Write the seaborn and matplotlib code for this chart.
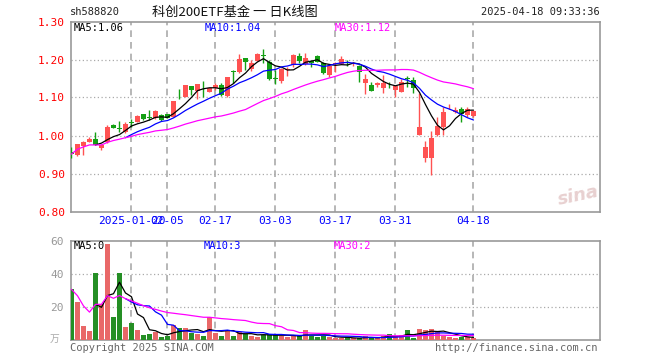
import numpy as np
import pandas as pd
import matplotlib
matplotlib.use('Agg')
import matplotlib.pyplot as plt
import seaborn as sns

# trading days 2025-01-06 .. 2025-04-18 (spring festival and qingming closed)
holidays = ['2025-01-28', '2025-01-29', '2025-01-30', '2025-01-31',
            '2025-02-03', '2025-02-04', '2025-04-04']
dates = pd.bdate_range('2025-01-06', '2025-04-18').drop(pd.to_datetime(holidays))

open_ = [0.957, 0.949, 0.973, 0.984, 0.991, 0.966, 0.984, 1.028, 1.020, 1.010,
         1.036, 1.036, 1.056, 1.048, 1.045, 1.054, 1.056, 1.050, 1.113, 1.102,
         1.130, 1.118, 1.118, 1.115, 1.124, 1.134, 1.105, 1.169, 1.168, 1.203,
         1.174, 1.197, 1.213, 1.193, 1.151, 1.143, 1.172, 1.185, 1.209, 1.189,
         1.196, 1.209, 1.191, 1.159, 1.187, 1.189, 1.194, 1.187, 1.183, 1.139,
         1.132, 1.132, 1.124, 1.134, 1.119, 1.115, 1.151, 1.147, 1.001, 0.942,
         0.940, 1.001, 1.023, 1.074, 1.063, 1.069, 1.054, 1.052]
high = [0.970, 0.978, 0.986, 0.997, 1.008, 0.977, 1.028, 1.030, 1.038, 1.036,
        1.043, 1.053, 1.057, 1.067, 1.066, 1.056, 1.057, 1.092, 1.122, 1.133,
        1.131, 1.136, 1.144, 1.125, 1.138, 1.139, 1.154, 1.173, 1.215, 1.205,
        1.199, 1.216, 1.227, 1.199, 1.172, 1.178, 1.181, 1.214, 1.216, 1.216,
        1.200, 1.211, 1.193, 1.189, 1.194, 1.209, 1.200, 1.194, 1.185, 1.163,
        1.141, 1.141, 1.159, 1.141, 1.131, 1.150, 1.156, 1.153, 1.111, 0.985,
        1.013, 1.049, 1.076, 1.083, 1.076, 1.076, 1.076, 1.066]
low = [0.942, 0.946, 0.948, 0.982, 0.974, 0.962, 0.979, 1.019, 1.008, 1.006,
       1.023, 1.035, 1.040, 1.041, 1.044, 1.038, 1.045, 1.048, 1.095, 1.101,
       1.107, 1.097, 1.102, 1.114, 1.119, 1.103, 1.100, 1.138, 1.165, 1.173,
       1.171, 1.195, 1.192, 1.146, 1.135, 1.137, 1.156, 1.181, 1.191, 1.185,
       1.181, 1.193, 1.163, 1.154, 1.168, 1.188, 1.182, 1.182, 1.141, 1.109,
       1.116, 1.128, 1.113, 1.124, 1.102, 1.115, 1.128, 1.112, 1.001, 0.931,
       0.895, 0.998, 1.001, 1.069, 1.058, 1.036, 1.050, 1.050]
close = [0.951, 0.977, 0.982, 0.991, 0.975, 0.975, 1.023, 1.021, 1.018, 1.029,
         1.034, 1.052, 1.043, 1.046, 1.064, 1.040, 1.046, 1.091, 1.111, 1.132,
         1.121, 1.135, 1.116, 1.124, 1.132, 1.107, 1.153, 1.167, 1.201, 1.193,
         1.192, 1.215, 1.210, 1.150, 1.149, 1.176, 1.176, 1.213, 1.196, 1.203,
         1.191, 1.194, 1.165, 1.182, 1.191, 1.200, 1.190, 1.191, 1.168, 1.150,
         1.118, 1.137, 1.137, 1.132, 1.130, 1.141, 1.149, 1.124, 1.023, 0.970,
         0.993, 1.025, 1.063, 1.076, 1.067, 1.057, 1.069, 1.065]
# volume, 10k lots
volume = [30.6, 22.9, 8.3, 5.6, 40.3, 21.7, 58.3, 13.9, 40.3, 7.9,
          10.3, 6.2, 3.0, 3.6, 4.9, 1.9, 2.5, 8.9, 7.3, 7.3,
          4.3, 3.7, 2.4, 13.6, 4.3, 2.4, 5.6, 2.5, 4.6, 3.9,
          2.5, 2.0, 3.1, 3.9, 3.0, 2.4, 2.0, 2.2, 2.4, 6.0,
          2.5, 2.0, 2.7, 1.8, 1.0, 1.0, 1.6, 1.0, 1.0, 2.4,
          1.4, 1.0, 2.4, 3.6, 2.0, 3.0, 6.0, 1.4, 6.6, 6.0,
          6.6, 5.0, 2.7, 1.8, 1.3, 2.0, 1.8, 1.0]

tick_dates = ['2025-01-20', '2025-02-05', '2025-02-17', '2025-03-03',
              '2025-03-17', '2025-03-31', '2025-04-18']
tick_labels = ['2025-01-20', '02-05', '02-17', '03-03', '03-17', '03-31', '04-18']
price_ticks = [0.80, 0.90, 1.00, 1.10, 1.20, 1.30]
vol_ticks = [20, 40, 60]

df = pd.DataFrame({'date': dates, 'open': open_, 'high': high, 'low': low,
                   'close': close, 'volume': volume})
df['i'] = np.arange(len(df))
df['dir'] = np.where(df['close'] >= df['open'], 'up', 'down')
for col, out in [('close', 'p'), ('volume', 'v')]:
    df[out + 'ma5'] = df[col].rolling(5).mean()
    df[out + 'ma10'] = df[col].rolling(10).mean()
    df[out + 'ma30'] = df[col].rolling(30, min_periods=1).mean()
tick_idx = [int(df.index[df['date'] == pd.Timestamp(d)][0]) for d in tick_dates]

RED, GREEN = '#ff5252', '#14a014'
pal = {'up': RED, 'down': GREEN}
GRID = '#aaaaaa'

sns.set_theme(style='white')
plt.rcParams['font.family'] = ['DejaVu Sans Mono', 'Noto Sans CJK SC']

W, H = 660, 360
fig = plt.figure(figsize=(W / 100, H / 100), dpi=100)
fig.patch.set_facecolor('white')


def box(l, t, r, b):
    return [l / W, 1 - b / H, (r - l) / W, (b - t) / H]


def ftext(x, y, s, **kw):
    fig.text(x / W, 1 - y / H, s, va='center', **kw)


ax = fig.add_axes(box(70.7, 21.5, 599.5, 211.5))
axv = fig.add_axes(box(70.7, 240.7, 599.5, 340))
xlim = (-0.13, 88.0)

# candles
cols = df['dir'].map(pal)
ax.vlines(df['i'], df['low'], df['high'], colors=cols, lw=1.0, zorder=3)
body_lo = df[['open', 'close']].min(axis=1)
body_h = (df['close'] - df['open']).abs().clip(lower=0.0018)
ax.bar(df['i'], body_h, bottom=body_lo, width=0.72, color=cols, lw=0, zorder=3)

for col, c in [('pma5', 'black'), ('pma10', '#0000ff'), ('pma30', '#ff00ff')]:
    sns.lineplot(data=df, x='i', y=col, color=c, lw=0.9, ax=ax, zorder=4)

# volume
sns.barplot(data=df, x='i', y='volume', hue='dir', palette=pal, native_scale=True,
            dodge=False, width=0.82, errorbar=None, legend=False, ax=axv, zorder=3,
            linewidth=0)
for col, c in [('vma5', 'black'), ('vma10', '#0000ff'), ('vma30', '#ff00ff')]:
    sns.lineplot(data=df, x='i', y=col, color=c, lw=0.9, ax=axv, zorder=4)

for a in (ax, axv):
    a.set_xlim(*xlim)
    for t in tick_idx:
        a.axvline(t, color=GRID, lw=1.2, ls=(0, (4, 3)), zorder=1)
    for s in a.spines.values():
        s.set_color('#999999')
        s.set_linewidth(1.2)
    a.set_xlabel('')
    a.set_ylabel('')
    a.set_facecolor('white')

ax.set_ylim(0.80, 1.30)
for v in price_ticks[1:-1]:
    ax.axhline(v, color=GRID, lw=0.9, ls=(0, (1, 2)), zorder=1)
ax.set_yticks(price_ticks)
ax.set_yticklabels([f'{v:.2f}' for v in price_ticks])
ax.set_xticks(tick_idx)
ax.set_xticklabels(tick_labels)
ax.tick_params(axis='y', length=0, pad=4, labelcolor='red', labelsize=8)
ax.tick_params(axis='x', length=0, pad=3, labelcolor='#0000ff', labelsize=8)

axv.set_ylim(0, 60)
for v in vol_ticks[:-1]:
    axv.axhline(v, color=GRID, lw=0.9, ls=(0, (1, 2)), zorder=1)
axv.set_yticks(vol_ticks)
axv.set_yticklabels([str(v) for v in vol_ticks])
axv.set_xticks([])
axv.tick_params(axis='y', length=0, pad=5, labelcolor='#999999', labelsize=8)

# header and labels
ftext(70, 12, 'sh588820', fontsize=7.5, color='#222222')
ftext(152, 12, '科创200ETF基金 一 日K线图', fontsize=9.5, color='#111111',
      family=['Noto Sans CJK SC', 'DejaVu Sans'])
ftext(600, 12, '2025-04-18 09:33:36', fontsize=7.5, color='#222222', ha='right')

ftext(74, 28, 'MA5:1.06', fontsize=7.5, color='black')
ftext(205, 28, 'MA10:1.04', fontsize=7.5, color='#0000ff')
ftext(335, 28, 'MA30:1.12', fontsize=7.5, color='#ff00ff')

ftext(74, 246, 'MA5:0', fontsize=7.5, color='black')
ftext(204, 246, 'MA10:3', fontsize=7.5, color='#0000ff')
ftext(334, 246, 'MA30:2', fontsize=7.5, color='#ff00ff')

ftext(55, 339, '万', fontsize=7, color='#aaaaaa', ha='center',
      family=['Noto Sans CJK SC', 'DejaVu Sans'])
ftext(70, 348, 'Copyright 2025 SINA.COM', fontsize=7.5, color='#666666')
ftext(597, 348, 'http://finance.sina.com.cn', fontsize=7.5, color='#666666', ha='right')
ftext(578, 196, 'sina', fontsize=13, color='#e8d0d0', ha='center',
      style='italic', weight='bold', family='DejaVu Sans', rotation=12)

fig.savefig('out.png', dpi=100, facecolor='white')
